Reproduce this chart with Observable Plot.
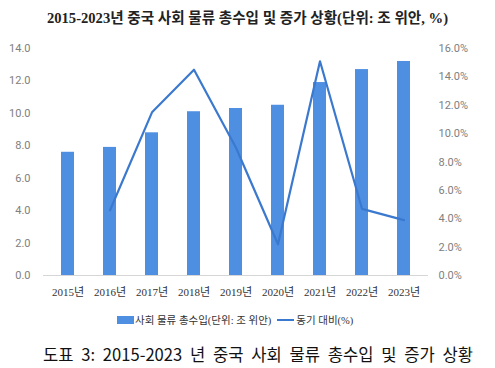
<!DOCTYPE html>
<html>
<head>
<meta charset="utf-8">
<script src="https://cdn.jsdelivr.net/npm/d3@7"></script>
<script src="https://cdn.jsdelivr.net/npm/@observablehq/plot@0.6"></script>
<style>
  html, body { margin: 0; padding: 0; background: #fff; }
  body { width: 495px; height: 368px; position: relative; overflow: hidden; font-family: "Noto Sans CJK KR", "Noto Sans", sans-serif; }
  #title { position: absolute; left: 0; top: 6px; width: 495px; text-align: center; font-family: "Liberation Serif", "Noto Sans CJK KR", serif; font-weight: bold; font-size: 14.6px; color: #222; white-space: nowrap; }
  #chart { position: absolute; left: 0; top: 30px; }
  #legend { position: absolute; left: 117px; top: 312px; font-family: "Liberation Serif", "Noto Sans CJK KR", serif; font-size: 10.5px; color: #333; display: flex; align-items: center; white-space: nowrap; }
  #legend .sw { display: inline-block; width: 17px; height: 8px; background: #4f8fe2; margin-right: 1px; }
  #legend .ln { display: inline-block; width: 17px; height: 2px; background: #3b79cf; margin-left: 6px; margin-right: 2px; }
  #caption { position: absolute; left: 43px; top: 342px; font-size: 16.6px; color: #111; white-space: nowrap; word-spacing: 4px; }
</style>
</head>
<body>
<div id="title">2015-2023년 중국 사회 물류 총수입 및 증가 상황(단위: 조 위안, %)</div>
<div id="chart"></div>
<div id="legend"><span class="sw"></span><span>사회 물류 총수입(단위: 조 위안)</span><span class="ln"></span><span>동기 대비(%)</span></div>
<div id="caption">도표 3: 2015-2023 년 중국 사회 물류 총수입 및 증가 상황</div>
<script>
const years = ["2015년","2016년","2017년","2018년","2019년","2020년","2021년","2022년","2023년"];
const revenue = [7.6, 7.9, 8.8, 10.1, 10.3, 10.5, 11.9, 12.7, 13.2];
const growthYears = ["2016년","2017년","2018년","2019년","2020년","2021년","2022년","2023년"];
const growth = [4.6, 11.5, 14.5, 9.0, 2.2, 15.1, 4.7, 3.9];
const leftTicks = [0, 2, 4, 6, 8, 10, 12, 14];
const rightTicks = [0, 2, 4, 6, 8, 10, 12, 14, 16];

const LEFT_MAX = 14, RIGHT_MAX = 16;
const toLeft = p => p * LEFT_MAX / RIGHT_MAX;

const bars = years.map((y, i) => ({year: y, value: revenue[i]}));
const line = growthYears.map((y, i) => ({year: y, value: toLeft(growth[i])}));

const chart = Plot.plot({
  width: 495,
  height: 275,
  marginLeft: 43,
  marginRight: 67,
  marginTop: 18,
  marginBottom: 30,
  style: {background: "transparent", fontSize: "11px"},
  x: {domain: years, paddingInner: 0.7, paddingOuter: 0.35, label: null},
  y: {domain: [0, LEFT_MAX], label: null},
  marks: [
    Plot.barY(bars, {x: "year", y: "value", fill: "#4f8fe2"}),
    Plot.ruleY([0], {stroke: "#d6d6d6", strokeWidth: 1}),
    Plot.line(line, {x: "year", y: "value", stroke: "#3b79cf", strokeWidth: 2.2}),
    Plot.axisY({ticks: leftTicks, tickSize: 0, tickPadding: 13, tickFormat: d => d.toFixed(1), fill: "#808080", label: null, fontFamily: "Roboto, 'Noto Sans', sans-serif", fontSize: 11}),
    Plot.axisY({anchor: "right", ticks: rightTicks.map(toLeft), tickSize: 0, tickPadding: 10, tickFormat: d => (d * RIGHT_MAX / LEFT_MAX).toFixed(1) + "%", fill: "#808080", label: null, textAnchor: "start", fontFamily: "Roboto, 'Noto Sans', sans-serif", fontSize: 11}),
    Plot.axisX({tickSize: 0, tickPadding: 13, label: null, fill: "#333", fontFamily: "'Liberation Serif', 'Noto Sans CJK KR', serif", fontSize: 11})
  ]
});
document.getElementById("chart").appendChild(chart);
</script>
</body>
</html>
